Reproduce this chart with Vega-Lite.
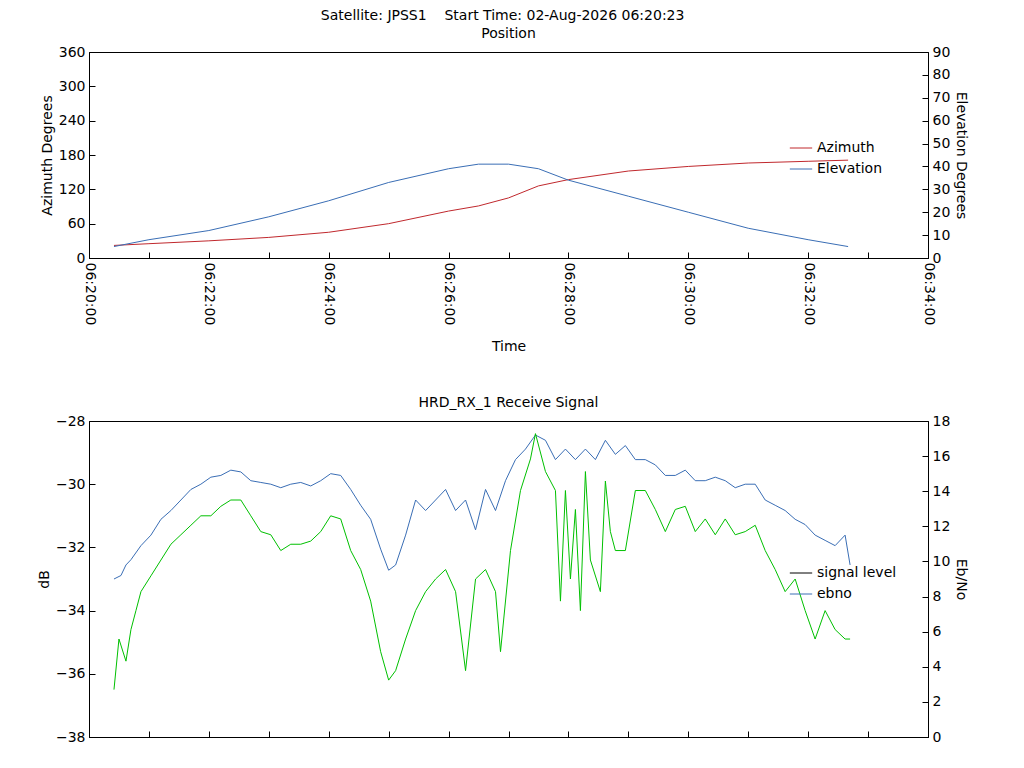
{
  "$schema": "https://vega.github.io/schema/vega-lite/v6.json",
  "padding": {"left": 36, "top": 8, "right": 5, "bottom": 5},
  "title": {"text": "Satellite: JPSS1\u00a0\u00a0\u00a0\u00a0Start Time: 02-Aug-2026 06:20:23", "anchor": "middle", "fontWeight": "normal", "fontSize": 14, "font": "DejaVu Sans"},
  "config": {
    "font": "DejaVu Sans",
    "view": {"stroke": "black"},
    "axis": {"grid": false, "domainColor": "black", "tickColor": "black", "labelFontSize": 14, "titleFontSize": 14, "titleFontWeight": "normal", "labelColor": "black", "titleColor": "black", "labelPadding": 10},
    "title": {"fontWeight": "normal", "fontSize": 14},
    "legend": {"labelFontSize": 14, "symbolType": "stroke", "symbolSize": 500, "symbolStrokeWidth": 1}
  },
  "datasets": {
    "pos": [
      {"t": 25, "az": 22, "el": 5}, {"t": 60, "az": 25, "el": 8}, {"t": 120, "az": 30, "el": 12},
      {"t": 180, "az": 36, "el": 18}, {"t": 240, "az": 45, "el": 25}, {"t": 300, "az": 60, "el": 33},
      {"t": 360, "az": 82, "el": 39}, {"t": 390, "az": 91, "el": 41}, {"t": 420, "az": 105, "el": 41},
      {"t": 450, "az": 126, "el": 39}, {"t": 480, "az": 137, "el": 34}, {"t": 540, "az": 152, "el": 27},
      {"t": 600, "az": 160, "el": 20}, {"t": 660, "az": 166, "el": 13}, {"t": 720, "az": 169, "el": 8},
      {"t": 760, "az": 171, "el": 5}
    ],
    "ebno": [
      {"t":25,"v":9.0},{"t":32,"v":9.2},{"t":37,"v":9.8},{"t":42,"v":10.1},{"t":52,"v":10.9},{"t":62,"v":11.5},{"t":72,"v":12.4},{"t":82,"v":12.9},{"t":92,"v":13.5},{"t":102,"v":14.1},{"t":112,"v":14.4},{"t":122,"v":14.8},{"t":132,"v":14.9},{"t":142,"v":15.2},{"t":152,"v":15.1},{"t":162,"v":14.6},{"t":172,"v":14.5},{"t":182,"v":14.4},{"t":192,"v":14.2},{"t":202,"v":14.4},{"t":212,"v":14.5},{"t":222,"v":14.3},{"t":232,"v":14.6},{"t":242,"v":15.0},{"t":252,"v":14.9},{"t":262,"v":14.1},{"t":272,"v":13.2},{"t":282,"v":12.4},{"t":292,"v":10.7},{"t":300,"v":9.5},{"t":307,"v":9.8},{"t":317,"v":11.5},{"t":327,"v":13.5},{"t":337,"v":12.9},{"t":347,"v":13.5},{"t":357,"v":14.1},{"t":367,"v":12.9},{"t":377,"v":13.5},{"t":387,"v":11.8},{"t":397,"v":14.1},{"t":407,"v":12.9},{"t":417,"v":14.6},{"t":427,"v":15.8},{"t":437,"v":16.4},{"t":447,"v":17.2},{"t":457,"v":16.9},{"t":467,"v":15.8},{"t":477,"v":16.4},{"t":487,"v":15.8},{"t":497,"v":16.4},{"t":507,"v":15.8},{"t":517,"v":16.9},{"t":527,"v":16.1},{"t":537,"v":16.6},{"t":547,"v":15.8},{"t":557,"v":15.8},{"t":567,"v":15.5},{"t":577,"v":14.9},{"t":587,"v":14.9},{"t":597,"v":15.2},{"t":607,"v":14.6},{"t":617,"v":14.6},{"t":627,"v":14.8},{"t":637,"v":14.6},{"t":647,"v":14.2},{"t":657,"v":14.4},{"t":667,"v":14.4},{"t":677,"v":13.5},{"t":687,"v":13.2},{"t":697,"v":12.9},{"t":707,"v":12.4},{"t":717,"v":12.1},{"t":727,"v":11.5},{"t":737,"v":11.2},{"t":747,"v":10.9},{"t":757,"v":11.5},{"t":762,"v":9.8}
    ],
    "sig": [
      {"t":25,"v":-36.5},{"t":30,"v":-34.9},{"t":37,"v":-35.6},{"t":42,"v":-34.6},{"t":47,"v":-34.0},{"t":52,"v":-33.4},{"t":62,"v":-32.9},{"t":72,"v":-32.4},{"t":82,"v":-31.9},{"t":92,"v":-31.6},{"t":102,"v":-31.3},{"t":112,"v":-31.0},{"t":122,"v":-31.0},{"t":132,"v":-30.7},{"t":142,"v":-30.5},{"t":152,"v":-30.5},{"t":162,"v":-31.0},{"t":172,"v":-31.5},{"t":182,"v":-31.6},{"t":192,"v":-32.1},{"t":202,"v":-31.9},{"t":212,"v":-31.9},{"t":222,"v":-31.8},{"t":232,"v":-31.5},{"t":242,"v":-31.0},{"t":252,"v":-31.1},{"t":262,"v":-32.1},{"t":272,"v":-32.7},{"t":282,"v":-33.7},{"t":292,"v":-35.3},{"t":300,"v":-36.2},{"t":307,"v":-35.9},{"t":317,"v":-34.9},{"t":327,"v":-34.0},{"t":337,"v":-33.4},{"t":347,"v":-33.0},{"t":357,"v":-32.7},{"t":367,"v":-33.4},{"t":377,"v":-35.9},{"t":387,"v":-33.0},{"t":397,"v":-32.7},{"t":407,"v":-33.4},{"t":412,"v":-35.3},{"t":422,"v":-32.1},{"t":432,"v":-30.2},{"t":442,"v":-29.2},{"t":447,"v":-28.4},{"t":457,"v":-29.6},{"t":467,"v":-30.2},{"t":472,"v":-33.7},{"t":477,"v":-30.2},{"t":482,"v":-33.0},{"t":487,"v":-30.8},{"t":492,"v":-34.0},{"t":497,"v":-29.6},{"t":502,"v":-32.4},{"t":512,"v":-33.4},{"t":517,"v":-29.9},{"t":522,"v":-31.5},{"t":527,"v":-32.1},{"t":537,"v":-32.1},{"t":547,"v":-30.2},{"t":557,"v":-30.2},{"t":567,"v":-30.8},{"t":577,"v":-31.5},{"t":587,"v":-30.8},{"t":597,"v":-30.7},{"t":607,"v":-31.5},{"t":617,"v":-31.1},{"t":627,"v":-31.6},{"t":637,"v":-31.1},{"t":647,"v":-31.6},{"t":657,"v":-31.5},{"t":667,"v":-31.3},{"t":677,"v":-32.1},{"t":687,"v":-32.7},{"t":697,"v":-33.4},{"t":707,"v":-33.0},{"t":717,"v":-34.0},{"t":727,"v":-34.9},{"t":737,"v":-34.0},{"t":747,"v":-34.6},{"t":757,"v":-34.9},{"t":762,"v":-34.9}
    ]
  },
  "spacing": 40,
  "resolve": {"scale": {"color": "independent"}, "legend": {"color": "independent"}},
  "vconcat": [
    {
      "title": "Position",
      "width": 839,
      "height": 206,
      "data": {"name": "pos"},
      "encoding": {
        "x": {"field": "t", "type": "quantitative", "scale": {"domain": [0, 840], "nice": false},
          "axis": {"values": [0,60,120,180,240,300,360,420,480,540,600,660,720,780,840], "labelAngle": 90, "tickSize": -6, "title": "Time", "titlePadding": 15,
            "labelExpr": "datum.value % 120 == 0 ? '06:' + (20 + floor(datum.value / 60)) + ':00' : ''"}}
      },
      "layer": [
        {"mark": {"type": "line", "strokeWidth": 1},
          "encoding": {
            "y": {"field": "az", "type": "quantitative", "scale": {"domain": [0, 360], "nice": false}, "axis": {"values": [0,60,120,180,240,300,360], "title": "Azimuth Degrees", "tickSize": -6}},
            "color": {"datum": "Azimuth", "scale": {"domain": ["Azimuth", "Elevation"], "range": ["#c0282d", "#3a6eb5"]},
              "legend": {"orient": "none", "legendX": 700, "legendY": 84, "title": null, "direction": "vertical"}}
          }},
        {"mark": {"type": "line", "strokeWidth": 1},
          "encoding": {
            "y": {"field": "el", "type": "quantitative", "scale": {"domain": [0, 90], "nice": false}, "axis": {"orient": "right", "values": [0,10,20,30,40,50,60,70,80,90], "title": "Elevation Degrees", "tickSize": -6}},
            "color": {"datum": "Elevation"}
          }}
      ],
      "resolve": {"scale": {"y": "independent"}}
    },
    {
      "title": "HRD_RX_1 Receive Signal",
      "width": 839,
      "height": 316,
      "layer": [
        {"data": {"name": "ebno"}, "mark": {"type": "line", "strokeWidth": 1},
          "encoding": {
            "x": {"field": "t", "type": "quantitative", "scale": {"domain": [0, 840], "nice": false},
              "axis": {"values": [0,60,120,180,240,300,360,420,480,540,600,660,720,780,840], "labels": false, "tickSize": -6, "title": null}},
            "y": {"field": "v", "type": "quantitative", "scale": {"domain": [0, 18], "nice": false}, "axis": {"orient": "right", "values": [0,2,4,6,8,10,12,14,16,18], "title": "Eb/No", "tickSize": -6}},
            "color": {"datum": "ebno", "scale": {"domain": ["signal level", "ebno"], "range": ["black", "#3a6eb5"]},
              "legend": {"orient": "none", "legendX": 700, "legendY": 140, "title": null}}
          }},
        {"data": {"name": "sig"}, "mark": {"type": "line", "strokeWidth": 1},
          "encoding": {
            "x": {"field": "t", "type": "quantitative"},
            "y": {"field": "v", "type": "quantitative", "scale": {"domain": [-38, -28], "nice": false}, "axis": {"values": [-38,-36,-34,-32,-30,-28], "title": "dB", "tickSize": -6}},
            "color": {"datum": "signal level"},
            "stroke": {"value": "#00c000"}
          }}
      ],
      "resolve": {"scale": {"y": "independent"}}
    }
  ]
}
